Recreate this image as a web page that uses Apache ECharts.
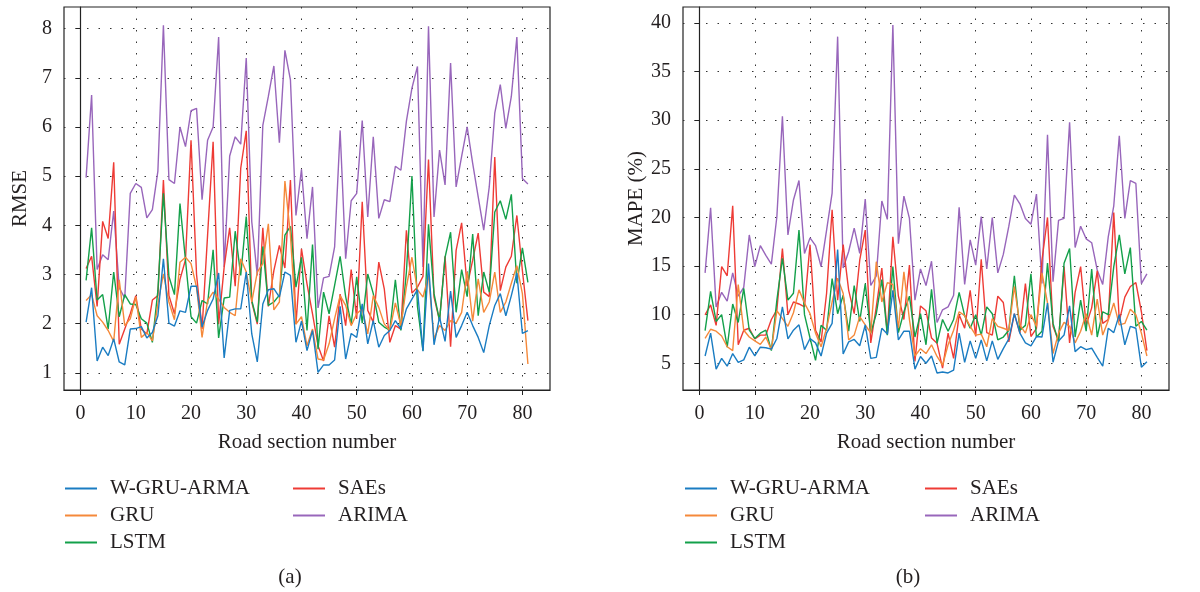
<!DOCTYPE html>
<html>
<head>
<meta charset="utf-8">
<script src="https://cdn.jsdelivr.net/npm/echarts@6/dist/echarts.min.js"></script>
<style>
html,body{margin:0;padding:0;background:#fff;}
#chart{width:1200px;height:592px;}
</style>
</head>
<body>
<div id="chart"></div>
<script>
// Road section numbers
const sections = Array.from({length: 81}, (_, i) => i + 1);
const seriesNames = ['W-GRU-ARMA', 'GRU', 'LSTM', 'SAEs', 'ARIMA'];
const xTicks = [0, 10, 20, 30, 40, 50, 60, 70, 80];
const rmseTicks = [1, 2, 3, 4, 5, 6, 7, 8];
const mapeTicks = [5, 10, 15, 20, 25, 30, 35, 40];

// (a) RMSE
const rmseWGRU = [2.03,2.73,1.24,1.52,1.35,1.69,1.22,1.16,1.89,1.90,1.94,1.71,1.82,2.16,3.32,2.01,1.95,2.26,2.23,2.76,2.76,1.93,2.27,2.50,3.03,1.30,2.27,2.30,2.30,3.05,1.79,1.22,2.40,2.69,2.71,2.54,3.05,2.98,1.62,2.05,1.45,1.86,1.01,1.16,1.16,1.26,2.35,1.28,1.80,1.72,2.40,1.59,2.06,1.52,1.76,1.86,2.06,1.89,2.30,2.50,2.69,1.44,3.22,1.57,2.13,1.64,2.66,1.72,1.96,2.23,1.96,1.72,1.41,1.96,2.37,2.61,2.16,2.57,3.03,1.80,1.86];
const rmseGRU = [2.47,2.59,2.16,2.03,1.86,1.64,2.89,1.96,2.10,2.54,1.72,1.82,1.65,2.40,3.01,2.44,2.08,3.25,3.35,3.22,2.74,1.72,2.47,2.64,2.50,2.33,2.23,2.16,3.32,3.05,2.44,3.05,3.22,4.03,2.28,2.44,4.90,3.80,1.99,2.14,1.55,1.89,1.28,1.26,1.59,2.10,2.57,2.37,1.96,2.20,2.30,1.79,2.57,2.33,1.99,1.86,2.42,1.96,2.75,3.35,2.69,2.54,2.98,1.69,1.96,1.86,2.06,2.01,2.23,3.05,2.05,2.91,2.23,2.44,3.05,2.23,2.44,2.82,3.18,2.61,1.18];
const rmseLSTM = [2.88,3.95,2.48,2.59,1.89,3.05,2.14,2.59,2.40,2.39,2.10,2.01,1.62,2.67,4.65,2.96,2.59,4.44,3.29,2.14,2.01,2.47,2.40,3.50,1.71,2.52,2.54,3.88,2.98,4.18,2.47,2.03,3.57,2.37,2.44,2.58,3.80,3.98,2.74,3.35,1.86,3.61,1.48,2.64,2.20,2.78,3.37,2.55,1.99,2.95,2.01,3.01,2.61,2.03,1.93,1.87,2.89,1.86,3.05,5.00,2.35,1.45,4.02,2.61,2.06,3.35,3.86,2.23,3.10,2.55,3.82,2.16,3.05,2.64,4.27,4.50,4.12,4.63,2.82,3.54,2.84];
const rmseSAE = [3.12,3.37,2.35,4.08,3.73,5.28,1.58,1.89,2.20,2.57,1.89,1.79,2.48,2.57,4.92,2.57,2.20,2.90,3.30,5.73,3.00,1.89,3.80,5.70,1.99,3.15,3.95,2.76,5.16,5.92,2.44,1.99,3.95,2.35,3.08,3.59,3.13,4.92,1.99,3.52,2.81,2.20,1.55,1.24,2.16,1.52,2.60,1.96,3.10,2.10,4.48,2.27,2.03,3.25,2.70,1.62,1.96,1.89,3.90,2.62,2.74,2.96,5.34,2.54,2.06,3.37,1.53,3.49,4.05,2.76,3.29,3.84,2.64,2.55,5.39,2.67,3.15,3.37,4.20,3.08,2.06];
const rmseARIMA = [4.97,6.65,3.10,3.40,3.30,4.29,2.73,2.52,4.65,4.85,4.77,4.15,4.32,5.10,8.07,4.93,4.85,6.00,5.60,6.33,6.38,4.52,5.73,6.00,7.83,3.15,5.41,5.80,5.65,7.40,4.07,2.98,6.03,6.62,7.24,5.68,7.56,6.96,4.20,5.14,3.73,4.78,2.32,2.93,2.96,3.56,5.93,3.32,4.50,4.65,6.13,4.17,5.80,4.14,4.52,4.48,5.20,5.12,6.12,6.79,7.23,3.15,8.05,4.17,5.53,4.82,7.30,4.78,5.40,6.00,5.26,4.58,3.90,4.78,6.28,6.86,5.97,6.62,7.83,4.95,4.84];

// (b) MAPE (%)
const mapeWGRU = [5.75,8.1,4.4,5.5,4.7,6.0,5.1,5.35,6.65,5.75,6.65,6.6,6.45,7.55,10.8,7.5,8.4,8.95,6.4,7.55,7.1,5.75,8.1,9.1,16.7,5.95,7.2,7.45,6.8,8.95,5.5,5.6,8.6,8.0,12.5,7.4,8.3,8.3,4.4,5.7,5.0,5.75,4.0,4.1,4.0,4.3,8.1,5.1,7.3,5.5,7.4,5.25,7.3,5.4,6.5,7.5,10.1,8.1,7.1,6.8,7.75,7.7,11.2,5.1,7.3,7.9,10.9,6.2,6.7,6.4,6.55,5.6,4.7,8.6,8.15,10.0,6.9,8.8,8.6,4.6,5.15];
const mapeGRU = [7.55,8.5,8.3,7.8,6.7,6.3,13.1,8.4,7.7,7.3,6.95,7.7,6.4,10.4,9.6,8.8,10.2,12.55,11.2,10.1,8.1,6.7,8.6,11.3,13.75,12.2,7.4,7.9,9.8,8.95,8.1,15.45,11.3,13.3,13.1,8.6,14.4,9.5,5.75,6.5,6.0,6.9,5.7,4.8,6.9,8.4,10.3,9.9,8.8,7.9,8.0,6.7,9.6,8.8,8.6,8.4,12.9,8.95,8.1,10.0,8.8,14.3,11.2,6.0,8.1,9.2,8.8,7.1,8.3,10.1,7.9,11.6,7.9,9.4,11.2,8.95,9.1,10.55,10.0,8.1,5.75];
const mapeLSTM = [8.35,12.4,9.3,10.0,6.65,11.1,9.2,12.7,8.4,7.55,8.1,8.4,6.3,11.5,15.8,11.5,12.2,18.7,10.0,7.6,5.3,8.9,8.4,13.7,10.1,12.0,8.3,13.0,9.3,13.2,8.1,10.1,13.6,7.9,14.95,8.15,10.3,11.9,7.7,10.1,6.9,12.6,7.05,9.5,8.3,9.5,12.3,9.9,8.6,10.0,7.9,10.8,10.1,7.4,7.7,8.4,14.0,8.4,8.9,14.2,7.7,8.3,15.3,9.1,7.2,15.3,16.8,7.7,11.5,8.3,14.7,7.7,10.3,10.0,14.95,18.2,14.2,16.9,8.8,9.3,8.4];
const mapeSAE = [9.97,11.0,8.9,14.95,14.0,21.2,6.9,8.4,8.6,7.5,7.9,7.9,9.5,10.5,16.8,10.0,11.3,11.1,10.8,17.2,8.4,7.2,12.2,20.8,11.5,17.2,12.5,10.1,15.6,18.7,7.1,10.8,14.8,8.0,18.0,11.9,9.5,15.1,5.2,10.9,10.4,7.6,7.05,4.5,8.1,5.5,10.0,8.6,12.5,7.75,15.7,8.15,7.9,11.9,11.25,7.2,10.1,8.1,13.2,7.75,8.6,15.6,20.0,8.8,7.3,14.95,7.1,12.3,14.95,8.9,10.7,14.5,9.1,9.5,20.5,9.3,11.8,12.9,13.3,10.3,6.3];
const mapeARIMA = [14.3,21.0,10.8,12.3,11.4,14.3,11.9,12.8,18.2,14.95,17.1,16.1,15.2,20.1,30.4,18.2,21.8,23.8,16.3,17.9,17.1,14.95,18.7,22.5,38.6,14.8,16.5,18.9,16.3,21.9,13.0,14.0,21.7,19.8,39.8,17.3,22.2,19.9,11.5,14.7,13.0,15.5,9.2,10.5,10.8,12.0,21.05,13.1,17.7,15.1,20.1,14.7,20.0,14.3,16.2,19.1,22.3,21.4,19.9,19.3,22.4,13.2,28.5,13.4,19.7,19.9,29.8,16.9,19.1,17.8,17.4,14.6,13.1,18.0,21.2,28.4,19.9,23.8,23.5,13.2,14.2];

const colors = ['#1a7cc2', '#f5893a', '#13a04a', '#ee3b35', '#9866bb'];
const FONT = '"Liberation Serif", "DejaVu Serif", serif';
const TXT = '#231f20';

const chart = echarts.init(document.getElementById('chart'));

function pair(vals) { return sections.map((s, i) => [s, vals[i]]); }

const gridDots = { type: [1.5, 10], color: '#333', width: 1 };

function xAxisCfg(gi) {
  return {
    gridIndex: gi, type: 'value', min: -3, max: 85,
    name: 'Road section number', nameLocation: 'middle', nameGap: 42,
    nameTextStyle: { fontFamily: FONT, fontSize: 21, color: TXT },
    axisLine: { show: true, onZero: false, lineStyle: { color: '#222', width: 1.2 } },
    axisTick: { show: true, inside: false, length: 5, customValues: xTicks, lineStyle: { color: '#222' } },
    axisLabel: { customValues: xTicks, margin: 14, fontFamily: FONT, fontSize: 20, color: TXT },
    splitLine: { show: true, lineStyle: gridDots }
  };
}
function yAxisCfg(gi, name, min, max, ticks, gap) {
  return {
    gridIndex: gi, type: 'value', min: min, max: max,
    name: name, nameLocation: 'middle', nameGap: gap, nameRotate: 90,
    nameTextStyle: { fontFamily: FONT, fontSize: 21, color: TXT },
    axisLine: { show: true, lineStyle: { color: '#222', width: 1.2 } },
    axisTick: { show: true, inside: false, length: 5, customValues: ticks, lineStyle: { color: '#222' } },
    axisLabel: { customValues: ticks, margin: 12, fontFamily: FONT, fontSize: 20, color: TXT },
    splitLine: { show: true, lineStyle: gridDots }
  };
}

const panelA = [rmseWGRU, rmseGRU, rmseLSTM, rmseSAE, rmseARIMA];
const panelB = [mapeWGRU, mapeGRU, mapeLSTM, mapeSAE, mapeARIMA];
const series = [];
[panelA, panelB].forEach((panel, gi) => {
  panel.forEach((vals, k) => {
    series.push({
      name: seriesNames[k], type: 'line', xAxisIndex: gi, yAxisIndex: gi,
      data: pair(vals), symbol: 'none', showSymbol: false,
      lineStyle: { color: colors[k], width: 1.4 }, itemStyle: { color: colors[k] },
      z: 10 - k, animation: false
    });
  });
});

function legendCfg(left, names) {
  return {
    orient: 'vertical', left: left, top: 473, itemWidth: 32, itemHeight: 2,
    icon: 'rect', itemGap: 6, selectedMode: false,
    data: names,
    textStyle: { fontFamily: FONT, fontSize: 21, color: TXT, padding: [0, 0, 0, 8] }
  };
}

chart.setOption({
  animation: false,
  color: colors,
  grid: [
    { left: 64, right: 650, top: 7, bottom: 202, show: true, borderColor: '#222', borderWidth: 1.2 },
    { left: 683, right: 31, top: 7, bottom: 202, show: true, borderColor: '#222', borderWidth: 1.2 }
  ],
  xAxis: [xAxisCfg(0), xAxisCfg(1)],
  yAxis: [
    yAxisCfg(0, 'RMSE', 0.65, 8.44, rmseTicks, 33),
    yAxisCfg(1, 'MAPE (%)', 2.25, 41.65, mapeTicks, 36)
  ],
  legend: [
    legendCfg(60, ['W-GRU-ARMA', 'GRU', 'LSTM']),
    legendCfg(288, ['SAEs', 'ARIMA']),
    legendCfg(680, ['W-GRU-ARMA', 'GRU', 'LSTM']),
    legendCfg(920, ['SAEs', 'ARIMA'])
  ],
  graphic: [
    { type: 'text', x: 290, y: 577, style: { text: '(a)', font: '21px ' + FONT, fill: TXT, textAlign: 'center', textVerticalAlign: 'middle' } },
    { type: 'text', x: 908, y: 577, style: { text: '(b)', font: '21px ' + FONT, fill: TXT, textAlign: 'center', textVerticalAlign: 'middle' } }
  ],
  series: series
});
</script>
</body>
</html>
